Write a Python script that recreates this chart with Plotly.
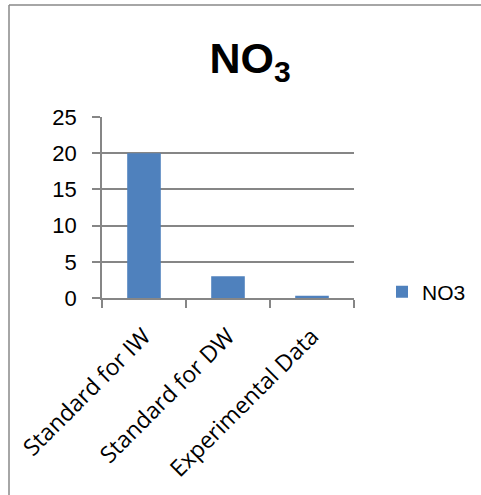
import plotly.graph_objects as go

categories = ["Standard for IW", "Standard for DW", "Experimental Data"]
no3_values = [20, 3, 0.3]
y_ticks = [0, 5, 10, 15, 20, 25]

W, H = 481, 495
L, R, T, B = 102, 127, 117, 197
pw, ph = W - L - R, H - T - B

def px_x(px):
    return (px - L) / pw

def px_y(py):
    return (H - B - py) / ph

fig = go.Figure()
fig.add_trace(go.Bar(
    x=categories, y=no3_values, name="NO3",
    marker=dict(color="#4F81BD", line=dict(width=0)),
    width=0.4,
))

fig.update_layout(
    width=W, height=H,
    margin=dict(l=L, r=R, t=T, b=B, autoexpand=False),
    paper_bgcolor="white", plot_bgcolor="white",
    font=dict(family="Liberation Sans", color="black"),
    title=dict(text="<b>NO<sub>3</sub></b>", x=250 / W, xanchor="center",
               y=1 - 58 / H, yanchor="middle",
               font=dict(family="Liberation Sans", size=43, color="black")),
    showlegend=True,
    legend=dict(x=px_x(382), y=px_y(292), xanchor="left", yanchor="middle",
                font=dict(size=21, family="Liberation Sans"), bgcolor="rgba(0,0,0,0)"),
)

fig.update_yaxes(
    range=[0, 25], tickvals=y_ticks, showgrid=True, gridcolor="#868686", gridwidth=1.5,
    showline=True, linecolor="#868686", linewidth=1.5,
    ticks="outside", ticklen=8, tickcolor="#868686", tickwidth=1.5,
    tickfont=dict(size=22, family="Liberation Sans"), zeroline=False,
    automargin=False, ticklabelstandoff=11,
)
fig.update_xaxes(
    showline=True, linecolor="#868686", linewidth=1.5,
    ticks="outside", ticklen=8, tickcolor="#868686", tickwidth=1.5,
    tickson="boundaries", tickangle=-45,
    tickfont=dict(size=23, family="Open Sans"),
    automargin=False, ticklabelstandoff=14,
)

# outer chart frame (left and top edges visible)
fig.add_shape(type="line", xref="paper", yref="paper",
              x0=px_x(9), x1=px_x(9), y0=px_y(5), y1=px_y(500),
              line=dict(color="#888888", width=1.5))
fig.add_shape(type="line", xref="paper", yref="paper",
              x0=px_x(9), x1=px_x(490), y0=px_y(5), y1=px_y(5),
              line=dict(color="#888888", width=1.5))

fig.write_html("out.html", config={"displayModeBar": False},
               post_script="document.body.style.margin='0';document.body.style.overflow='hidden';")
